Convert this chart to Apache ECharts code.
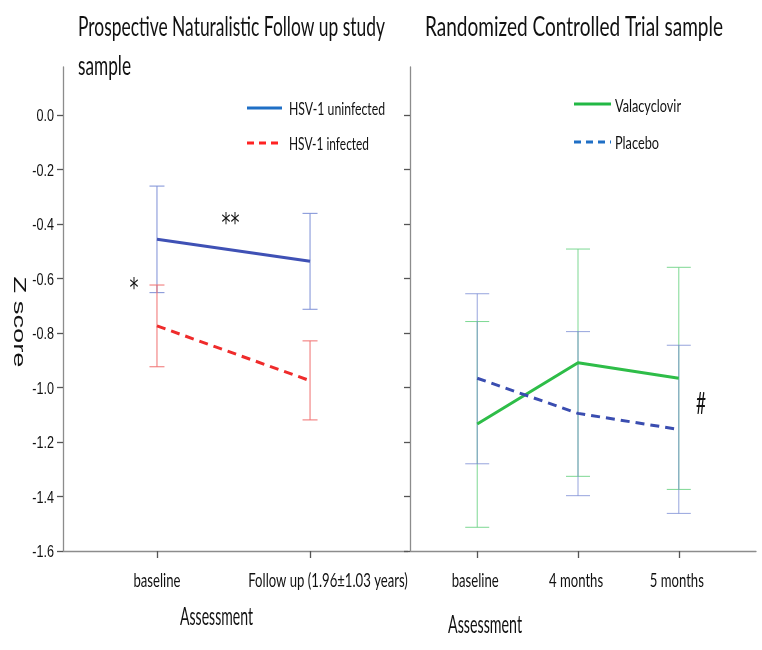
<!DOCTYPE html>
<html>
<head>
<meta charset="utf-8">
<script src="https://cdn.jsdelivr.net/npm/echarts@6/dist/echarts.min.js"></script>
<style>
html,body{margin:0;padding:0;background:#fff;}
#chart{width:762px;height:650px;}
</style>
</head>
<body>
<div id="chart"></div>
<script>
// ---- data ----
const leftCategories = ['baseline', 'Follow up (1.96\u00b11.03 years)'];
const rightCategories = ['baseline', '4 months', '5 months'];
const yTicks = [-1.6, -1.4, -1.2, -1.0, -0.8, -0.6, -0.4, -0.2, 0.0];

const uninfectedMean = [-0.456, -0.537];
const uninfectedLow  = [-0.652, -0.713];
const uninfectedHigh = [-0.261, -0.361];

const infectedMean = [-0.774, -0.975];
const infectedLow  = [-0.924, -1.119];
const infectedHigh = [-0.624, -0.829];

const valaMean = [-1.134, -0.909, -0.966];
const valaLow  = [-1.513, -1.326, -1.374];
const valaHigh = [-0.758, -0.492, -0.559];

const placeboMean = [-0.966, -1.095, -1.154];
const placeboLow  = [-1.280, -1.397, -1.462];
const placeboHigh = [-0.656, -0.795, -0.845];

// ---- helpers ----
const mctx = document.createElement('canvas').getContext('2d');
function fit(text, font, targetW) {
  mctx.font = font;
  return targetW / mctx.measureText(text).width;
}
function pts(arr) { return arr.map((v, i) => [i, v]); }
function bars(lo, hi) { return lo.map((v, i) => [i, v, hi[i]]); }
function errRender(capHalf, color, opacity) {
  return function (params, api) {
    const x = api.value(0);
    const a = api.coord([x, api.value(1)]);
    const b = api.coord([x, api.value(2)]);
    const st = { stroke: color, lineWidth: 1, opacity: opacity };
    return {
      type: 'group',
      children: [
        { type: 'line', shape: { x1: a[0], y1: a[1], x2: b[0], y2: b[1] }, style: st },
        { type: 'line', shape: { x1: a[0] - capHalf, y1: a[1], x2: a[0] + capHalf, y2: a[1] }, style: st },
        { type: 'line', shape: { x1: b[0] - capHalf, y1: b[1], x2: b[0] + capHalf, y2: b[1] }, style: st }
      ]
    };
  };
}

const axisLineStyle = { color: '#8c8c8c', width: 1.3 };
const tickStyle = { color: '#555', width: 1.3 };

function yAxisCfg(gridIndex) {
  return {
    type: 'value', gridIndex: gridIndex, min: -1.6, max: 0.176, interval: 0.2,
    splitLine: { show: false },
    axisLine: { show: true, onZero: false, lineStyle: axisLineStyle },
    axisTick: { show: true, length: 6, lineStyle: tickStyle, customValues: yTicks },
    axisLabel: { show: false }
  };
}
function xAxisCfg(gridIndex, cats, min, max) {
  const idx = cats.map((c, i) => i);
  return {
    type: 'value', gridIndex: gridIndex, min: min, max: max,
    splitLine: { show: false },
    axisLine: { show: true, onZero: false, lineStyle: axisLineStyle },
    axisTick: { show: true, length: 7, lineStyle: tickStyle, customValues: idx },
    axisLabel: { show: false }
  };
}

const TITLE_FONT = '27px Lato';
const LEG_FONT = '18px Lato';
const ASSESS_FONT = '25px Lato';
const ZFONT = '27px "Liberation Sans"';
const YLAB_FONT = '16px "Liberation Sans"';
const XLAB_FONT = '20px Lato';

function txt(text, x, y, font, scale, align) {
  return {
    type: 'text', x: x, y: y, scaleX: scale,
    style: { text: text, font: font, fill: '#111', textAlign: align || 'left', textVerticalAlign: 'middle' },
    z: 10
  };
}
function txtW(text, x, y, font, targetW, align) {
  return txt(text, x, y, font, fit(text, font, targetW), align);
}

const staticGraphics = [
  txtW('Prospective Naturalistic Follow up study', 78, 27, TITLE_FONT, 307),
  txtW('sample', 78, 66, TITLE_FONT, 53),
  txtW('Randomized Controlled Trial sample', 425, 27, TITLE_FONT, 298),
  // legends
  { type: 'line', shape: { x1: 247, y1: 108, x2: 282, y2: 108 }, style: { stroke: '#1f6fc5', lineWidth: 3 } },
  txtW('HSV-1 uninfected', 289, 109, LEG_FONT, 96),
  { type: 'line', shape: { x1: 247, y1: 143, x2: 282, y2: 143 }, style: { stroke: '#ff2222', lineWidth: 3, lineDash: [7, 5] } },
  txtW('HSV-1 infected', 289, 144, LEG_FONT, 80),
  { type: 'line', shape: { x1: 574, y1: 104, x2: 611, y2: 104 }, style: { stroke: '#22b844', lineWidth: 3 } },
  txtW('Valacyclovir', 615, 106, LEG_FONT, 66),
  { type: 'line', shape: { x1: 574, y1: 142, x2: 611, y2: 142 }, style: { stroke: '#1f6fc5', lineWidth: 3, lineDash: [7, 5] } },
  txtW('Placebo', 615, 143, LEG_FONT, 44),
  // axis titles
  txtW('Assessment', 180, 617, ASSESS_FONT, 73),
  txtW('Assessment', 448, 625, ASSESS_FONT, 74),
  {
    type: 'text', x: 19, y: 322, rotation: -Math.PI / 2,
    scaleX: fit('Z score', ZFONT, 91), scaleY: 0.62,
    style: { text: 'Z score', font: ZFONT, fill: '#111', textAlign: 'center', textVerticalAlign: 'middle' }
  },
  // significance marks
  txtW('**', 230.5, 225, '26px "DejaVu Sans"', 18, 'center'),
  txtW('*', 134, 290, '26px "DejaVu Sans"', 9, 'center'),
  txtW('#', 701, 404, '31px Lato', 10, 'center')
];

const option = {
  animation: false,
  backgroundColor: '#fff',
  grid: [
    { left: 63, top: 67, width: 345, height: 484 },
    { left: 410, top: 67, width: 346, height: 484 }
  ],
  xAxis: [
    xAxisCfg(0, leftCategories, -0.614, 1.64),
    xAxisCfg(1, rightCategories, -0.667, 2.766)
  ],
  yAxis: [yAxisCfg(0), yAxisCfg(1)],
  series: [
    { type: 'custom', name: 'HSV-1 uninfected CI', xAxisIndex: 0, yAxisIndex: 0, data: bars(uninfectedLow, uninfectedHigh), renderItem: errRender(7.5, '#7d8fd6', 1), z: 1 },
    { type: 'custom', name: 'HSV-1 infected CI', xAxisIndex: 0, yAxisIndex: 0, data: bars(infectedLow, infectedHigh), renderItem: errRender(7.5, '#f07070', 1), z: 1 },
    { type: 'custom', name: 'Valacyclovir CI', xAxisIndex: 1, yAxisIndex: 1, data: bars(valaLow, valaHigh), renderItem: errRender(12, '#6fd487', 0.9), z: 1 },
    { type: 'custom', name: 'Placebo CI', xAxisIndex: 1, yAxisIndex: 1, data: bars(placeboLow, placeboHigh), renderItem: errRender(12, '#7386d2', 0.75), z: 1 },
    { type: 'line', name: 'HSV-1 uninfected', xAxisIndex: 0, yAxisIndex: 0, data: pts(uninfectedMean), symbol: 'none', lineStyle: { color: '#3f51b5', width: 3 }, z: 3 },
    { type: 'line', name: 'HSV-1 infected', xAxisIndex: 0, yAxisIndex: 0, data: pts(infectedMean), symbol: 'none', lineStyle: { color: '#ef2b2b', width: 3, type: [9, 6] }, z: 3 },
    { type: 'line', name: 'Valacyclovir', xAxisIndex: 1, yAxisIndex: 1, data: pts(valaMean), symbol: 'none', lineStyle: { color: '#2ebd48', width: 3 }, z: 3 },
    { type: 'line', name: 'Placebo', xAxisIndex: 1, yAxisIndex: 1, data: pts(placeboMean), symbol: 'none', lineStyle: { color: '#3a4db0', width: 3, type: [9, 6] }, z: 3 }
  ]
};

const chart = echarts.init(document.getElementById('chart'), null, { renderer: 'canvas' });
chart.setOption(option);

// ---- axis labels placed through the library's own scales ----
const labelGraphics = [];
const gridLeftX = chart.convertToPixel({ xAxisIndex: 0 }, -0.614);
const ySc = fit('-0.6', YLAB_FONT, 21.7);
yTicks.forEach(v => {
  const py = chart.convertToPixel({ yAxisIndex: 0 }, v);
  labelGraphics.push(txt(v.toFixed(1), gridLeftX - 9, py + 2, YLAB_FONT, ySc, 'right'));
});
const xSc = fit('baseline', XLAB_FONT, 47);
const axisBottom = chart.convertToPixel({ yAxisIndex: 0 }, -1.6);
const labelShift = [0, 18];
leftCategories.forEach((c, i) => {
  const px = chart.convertToPixel({ xAxisIndex: 0 }, i);
  labelGraphics.push(txt(c, px + labelShift[i], axisBottom + 29.5, XLAB_FONT, xSc, 'center'));
});
rightCategories.forEach((c, i) => {
  const px = chart.convertToPixel({ xAxisIndex: 1 }, i);
  labelGraphics.push(txt(c, px - 2, axisBottom + 29.5, XLAB_FONT, xSc, 'center'));
});
chart.setOption({ graphic: staticGraphics.concat(labelGraphics) });
</script>
</body>
</html>
